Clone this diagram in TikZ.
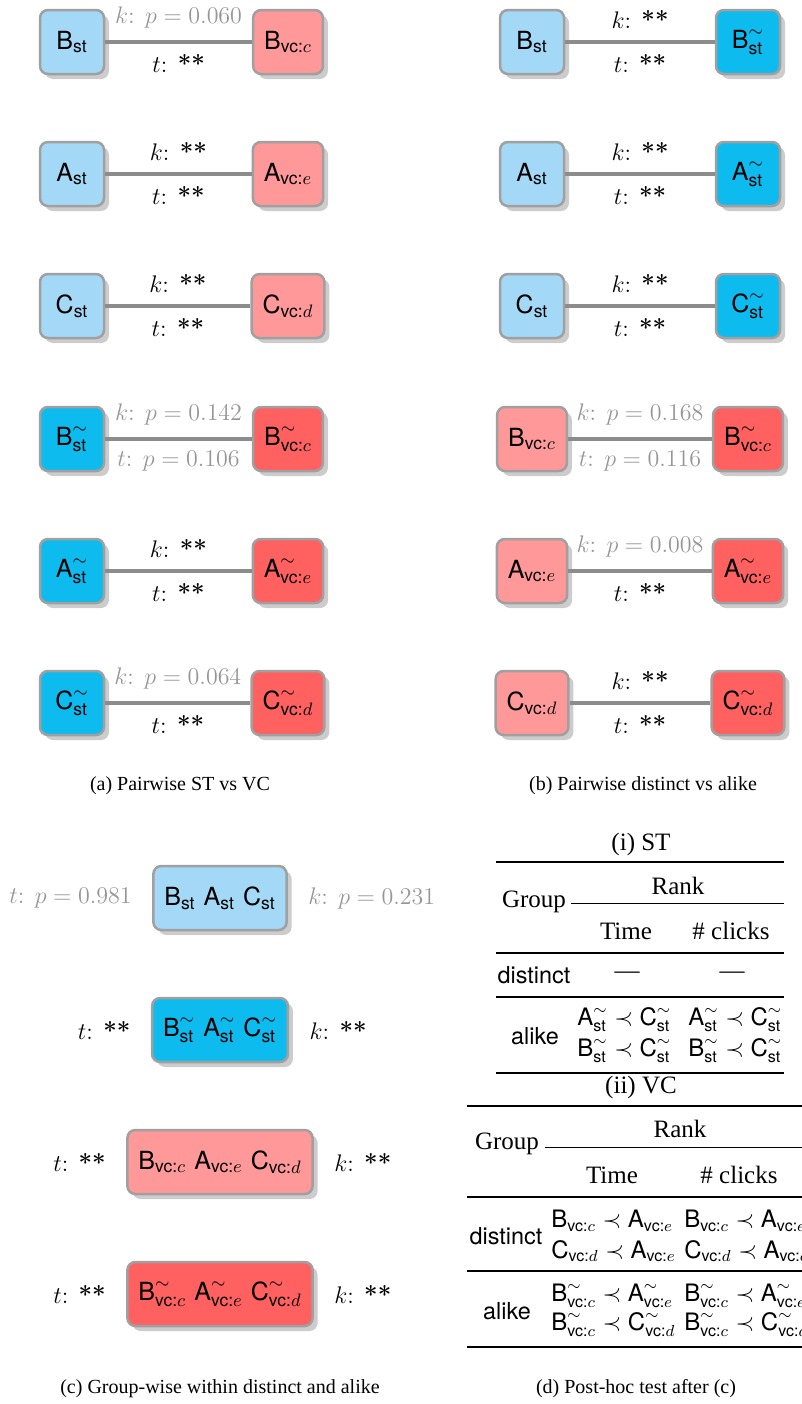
\documentclass[tikz,border=0pt]{standalone}
\usepackage{amsmath}
\usepackage{fontspec}
\setsansfont{TeX Gyre Heros}
\newfontfamily\tabfont[Ligatures=TeX]{Liberation Serif}
\usetikzlibrary{positioning,shadows}

\definecolor{stlight}{RGB}{163,217,246}
\definecolor{stdark}{RGB}{14,187,238}
\definecolor{vclight}{RGB}{255,152,152}
\definecolor{vcdark}{RGB}{255,97,97}
\definecolor{linkgray}{RGB}{140,140,140}
\definecolor{framegray}{RGB}{160,160,160}
\definecolor{pgray}{RGB}{150,150,150}

\newcommand{\Sst}[1]{\textsf{#1}_{\textsf{st}}}
\newcommand{\Tst}[1]{\textsf{#1}^{\sim}_{\textsf{st}}}
\newcommand{\Svc}[2]{\textsf{#1}_{\textsf{vc:}#2}}
\newcommand{\Tvc}[2]{\textsf{#1}^{\sim}_{\textsf{vc:}#2}}
\newcommand{\sig}{\textbf{**}}

\tikzset{
  cond/.style={draw=framegray, line width=1.25pt, rounded corners=4pt,
               minimum width=32pt, minimum height=32pt, inner sep=5.5pt,
               font=\fontsize{12.5}{14}\selectfont,
               drop shadow={shadow xshift=2.5pt, shadow yshift=-2.5pt,
                            fill=black!20, opacity=1}},
  stbox/.style={cond, fill=stlight},
  stsim/.style={cond, fill=stdark},
  vcbox/.style={cond, fill=vclight},
  vcsim/.style={cond, fill=vcdark},
  link/.style={draw=linkgray, line width=2pt},
  lbl/.style={inner sep=0pt, font=\fontsize{12}{14}\selectfont},
  up/.style={lbl, above=6pt},
  down/.style={lbl, below=5pt},
  ns/.style={text=pgray},
  capt/.style={font=\tabfont\fontsize{10}{12}\selectfont},
  tab/.style={inner sep=0pt, font=\tabfont\fontsize{12.5}{14}\selectfont},
  tabsf/.style={inner sep=0pt, font=\sffamily\fontsize{11.7}{13}\selectfont},
  rankent/.style={inner sep=0pt, anchor=west, font=\sffamily\fontsize{12}{14}\selectfont},
  toprule/.style={line width=1pt},
  midrule/.style={line width=0.6pt},
  cmid/.style={line width=0.5pt}
}

\begin{document}
\begin{tikzpicture}[x=0.5pt,y=-0.5pt,node distance=108pt]
  \useasboundingbox (0,0) rectangle (802,1404);

  % (a) ST vs VC
  \node[stbox] (aB)  at (72,42)      {$\Sst{B}$};
  \node[vcbox] (aBv) [right of=aB]   {$\Svc{B}{c}$};
  \node[stbox] (aA)  at (72,174)     {$\Sst{A}$};
  \node[vcbox] (aAv) [right of=aA]   {$\Svc{A}{e}$};
  \node[stbox] (aC)  at (72,306)     {$\Sst{C}$};
  \node[vcbox] (aCv) [right of=aC]   {$\Svc{C}{d}$};
  \node[stsim] (aBs) at (72,439)     {$\Tst{B}$};
  \node[vcsim] (aBw) [right of=aBs]  {$\Tvc{B}{c}$};
  \node[stsim] (aAs) at (72,571)     {$\Tst{A}$};
  \node[vcsim] (aAw) [right of=aAs]  {$\Tvc{A}{e}$};
  \node[stsim] (aCs) at (72,703)     {$\Tst{C}$};
  \node[vcsim] (aCw) [right of=aCs]  {$\Tvc{C}{d}$};

  \path (aB)  edge[link] node[up,ns] {$k$: $p=0.060$} node[down] {$t$: \sig} (aBv)
        (aA)  edge[link] node[up] {$k$: \sig} node[down] {$t$: \sig} (aAv)
        (aC)  edge[link] node[up] {$k$: \sig} node[down] {$t$: \sig} (aCv)
        (aBs) edge[link] node[up,ns] {$k$: $p=0.142$} node[down,ns] {$t$: $p=0.106$} (aBw)
        (aAs) edge[link] node[up] {$k$: \sig} node[down] {$t$: \sig} (aAw)
        (aCs) edge[link] node[up,ns] {$k$: $p=0.064$} node[down] {$t$: \sig} (aCw);

  \node[capt] (capa) at (180,786) {(a) Pairwise ST vs VC};

  % (b) distinct vs alike
  \node[stbox] (bB)  at (532,42)     {$\Sst{B}$};
  \node[stsim] (bBs) [right of=bB]   {$\Tst{B}$};
  \node[stbox] (bA)  at (532,174)    {$\Sst{A}$};
  \node[stsim] (bAs) [right of=bA]   {$\Tst{A}$};
  \node[stbox] (bC)  at (532,306)    {$\Sst{C}$};
  \node[stsim] (bCs) [right of=bC]   {$\Tst{C}$};
  \node[vcbox] (bBv) at (532,439)    {$\Svc{B}{c}$};
  \node[vcsim] (bBw) [right of=bBv]  {$\Tvc{B}{c}$};
  \node[vcbox] (bAv) at (532,571)    {$\Svc{A}{e}$};
  \node[vcsim] (bAw) [right of=bAv]  {$\Tvc{A}{e}$};
  \node[vcbox] (bCv) at (532,703)    {$\Svc{C}{d}$};
  \node[vcsim] (bCw) [right of=bCv]  {$\Tvc{C}{d}$};

  \path (bB)  edge[link] node[up] {$k$: \sig} node[down] {$t$: \sig} (bBs)
        (bA)  edge[link] node[up] {$k$: \sig} node[down] {$t$: \sig} (bAs)
        (bC)  edge[link] node[up] {$k$: \sig} node[down] {$t$: \sig} (bCs)
        (bBv) edge[link] node[up,ns] {$k$: $p=0.168$} node[down,ns] {$t$: $p=0.116$} (bBw)
        (bAv) edge[link] node[up,ns] {$k$: $p=0.008$} node[down] {$t$: \sig} (bAw)
        (bCv) edge[link] node[up] {$k$: \sig} node[down] {$t$: \sig} (bCw);

  \node[capt] (capb) at (643,786) {(b) Pairwise distinct vs alike};

  % (c) group-wise
  \node[stbox] (cST)  at (220,898)  {$\Sst{B}$ $\Sst{A}$ $\Sst{C}$};
  \node[stsim] (cSTs) at (220,1030) {$\Tst{B}$ $\Tst{A}$ $\Tst{C}$};
  \node[vcbox] (cVC)  at (220,1162) {$\Svc{B}{c}$ $\Svc{A}{e}$ $\Svc{C}{d}$};
  \node[vcsim] (cVCs) at (220,1294) {$\Tvc{B}{c}$ $\Tvc{A}{e}$ $\Tvc{C}{d}$};

  \node[lbl,ns] (tST)  [left=10pt of cST]   {$t$: $p=0.981$};
  \node[lbl,ns] (kST)  [right=10pt of cST]  {$k$: $p=0.231$};
  \node[lbl]    (tSTs) [left=10pt of cSTs]  {$t$: \sig};
  \node[lbl]    (kSTs) [right=10pt of cSTs] {$k$: \sig};
  \node[lbl]    (tVC)  [left=10pt of cVC]   {$t$: \sig};
  \node[lbl]    (kVC)  [right=10pt of cVC]  {$k$: \sig};
  \node[lbl]    (tVCs) [left=10pt of cVCs]  {$t$: \sig};
  \node[lbl]    (kVCs) [right=10pt of cVCs] {$k$: \sig};

  \node[capt] (capc) at (220,1389) {(c) Group-wise within distinct and alike};

  % (d) post-hoc, (i) ST
  \node[tab] (dST) at (641,844) {(i) ST};
  \draw[toprule] (496,862) -- (784,862);
  \node[tab] (grpST)  at (534,902) {Group};
  \node[tab] (rnkST)  at (678,886) {Rank};
  \draw[cmid] (571,903) -- (784,903);
  \node[tab] (timST)  at (626,931) {Time};
  \node[tab] (clkST)  at (731,931) {\# clicks};
  \draw[midrule] (496,953) -- (784,953);
  \node[tabsf] (disST) at (534,975) {distinct};
  \node[tab] (nt1) at (627,975) {\textemdash};
  \node[tab] (nc1) at (732,975) {\textemdash};
  \draw[midrule] (496,997) -- (784,997);
  \node[tabsf] (alkST) at (535,1036) {alike};
  \node[rankent] (r1) at (577,1020) {$\Tst{A} \prec \Tst{C}$};
  \node[rankent] (r2) at (688,1020) {$\Tst{A} \prec \Tst{C}$};
  \node[rankent] (r3) at (577,1051) {$\Tst{B} \prec \Tst{C}$};
  \node[rankent] (r4) at (688,1051) {$\Tst{B} \prec \Tst{C}$};
  \draw[toprule] (496,1073) -- (784,1073);

  % (ii) VC
  \node[tab] (dVC) at (641,1087) {(ii) VC};
  \draw[toprule] (467,1106) -- (802,1106);
  \node[tab] (grpVC)  at (507,1144) {Group};
  \node[tab] (rnkVC)  at (680,1129) {Rank};
  \draw[cmid] (545,1147) -- (802,1147);
  \node[tab] (timVC)  at (612,1175) {Time};
  \node[tab] (clkVC)  at (739,1175) {\# clicks};
  \draw[midrule] (467,1197) -- (802,1197);
  \node[tabsf] (disVC) at (506,1236) {distinct};
  \node[rankent] (v1) at (551,1221) {$\Svc{B}{c} \prec \Svc{A}{e}$};
  \node[rankent] (v2) at (684,1221) {$\Svc{B}{c} \prec \Svc{A}{e}$};
  \node[rankent] (v3) at (551,1251) {$\Svc{C}{d} \prec \Svc{A}{e}$};
  \node[rankent] (v4) at (684,1251) {$\Svc{C}{d} \prec \Svc{A}{e}$};
  \draw[midrule] (467,1271) -- (802,1271);
  \node[tabsf] (alkVC) at (507,1311) {alike};
  \node[rankent] (w1) at (551,1296) {$\Tvc{B}{c} \prec \Tvc{A}{e}$};
  \node[rankent] (w2) at (684,1296) {$\Tvc{B}{c} \prec \Tvc{A}{e}$};
  \node[rankent] (w3) at (551,1325) {$\Tvc{B}{c} \prec \Tvc{C}{d}$};
  \node[rankent] (w4) at (684,1325) {$\Tvc{B}{c} \prec \Tvc{C}{d}$};
  \draw[toprule] (467,1347) -- (802,1347);

  \node[capt] (capd) at (636,1389) {(d) Post-hoc test after (c)};
\end{tikzpicture}
\end{document}
